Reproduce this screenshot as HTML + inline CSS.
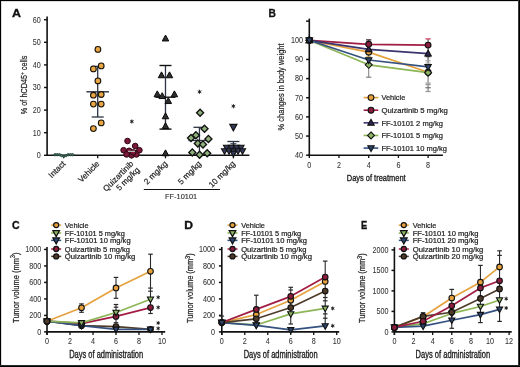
<!DOCTYPE html>
<html><head><meta charset="utf-8"><style>
html,body{margin:0;padding:0;background:#fff;width:520px;height:367px;overflow:hidden}
svg{display:block;will-change:transform}
text{font-family:"Liberation Sans", sans-serif}
</style></head><body>
<svg width="520" height="367" viewBox="0 0 520 367">
<rect x="0" y="0" width="520" height="367" fill="#fff"/>
<text x="11.9" y="16.5" font-size="10.6" fill="#111" stroke="#111" stroke-width="0.3" font-weight="bold" textLength="9" lengthAdjust="spacingAndGlyphs">A</text>
<line x1="47.1" y1="16.6" x2="47.1" y2="156" stroke="#111" stroke-width="1.6"/>
<line x1="46.4" y1="155.3" x2="249.4" y2="155.3" stroke="#111" stroke-width="1.6"/>
<line x1="44" y1="155.3" x2="47.1" y2="155.3" stroke="#111" stroke-width="1.4"/>
<line x1="44" y1="132.7" x2="47.1" y2="132.7" stroke="#111" stroke-width="1.4"/>
<line x1="44" y1="110.1" x2="47.1" y2="110.1" stroke="#111" stroke-width="1.4"/>
<line x1="44" y1="87.5" x2="47.1" y2="87.5" stroke="#111" stroke-width="1.4"/>
<line x1="44" y1="64.9" x2="47.1" y2="64.9" stroke="#111" stroke-width="1.4"/>
<line x1="44" y1="42.3" x2="47.1" y2="42.3" stroke="#111" stroke-width="1.4"/>
<line x1="44" y1="19.7" x2="47.1" y2="19.7" stroke="#111" stroke-width="1.4"/>
<text x="40.8" y="158.12" font-size="8.2" text-anchor="end" fill="#333" stroke="#333" stroke-width="0.06" textLength="4" lengthAdjust="spacingAndGlyphs">0</text>
<text x="40.8" y="135.52" font-size="8.2" text-anchor="end" fill="#333" stroke="#333" stroke-width="0.06" textLength="8" lengthAdjust="spacingAndGlyphs">10</text>
<text x="40.8" y="112.92" font-size="8.2" text-anchor="end" fill="#333" stroke="#333" stroke-width="0.06" textLength="8" lengthAdjust="spacingAndGlyphs">20</text>
<text x="40.8" y="90.32" font-size="8.2" text-anchor="end" fill="#333" stroke="#333" stroke-width="0.06" textLength="8" lengthAdjust="spacingAndGlyphs">30</text>
<text x="40.8" y="67.72" font-size="8.2" text-anchor="end" fill="#333" stroke="#333" stroke-width="0.06" textLength="8" lengthAdjust="spacingAndGlyphs">40</text>
<text x="40.8" y="45.12" font-size="8.2" text-anchor="end" fill="#333" stroke="#333" stroke-width="0.06" textLength="8" lengthAdjust="spacingAndGlyphs">50</text>
<text x="40.8" y="22.52" font-size="8.2" text-anchor="end" fill="#333" stroke="#333" stroke-width="0.06" textLength="8" lengthAdjust="spacingAndGlyphs">60</text>
<line x1="63.6" y1="155.3" x2="63.6" y2="158.3" stroke="#111" stroke-width="1.3"/>
<line x1="97.7" y1="155.3" x2="97.7" y2="158.3" stroke="#111" stroke-width="1.3"/>
<line x1="131.52" y1="155.3" x2="131.52" y2="158.3" stroke="#111" stroke-width="1.3"/>
<line x1="165.48" y1="155.3" x2="165.48" y2="158.3" stroke="#111" stroke-width="1.3"/>
<line x1="199.44" y1="155.3" x2="199.44" y2="158.3" stroke="#111" stroke-width="1.3"/>
<line x1="233.4" y1="155.3" x2="233.4" y2="158.3" stroke="#111" stroke-width="1.3"/>
<text x="27.3" y="84.9" font-size="8.9" text-anchor="middle" fill="#1e1e1e" stroke="#1e1e1e" stroke-width="0.22" textLength="58.5" lengthAdjust="spacingAndGlyphs" transform="rotate(-90 27.3 84.9)">% of hCD45<tspan font-size="6" dy="-3.2">+</tspan><tspan dy="3.2"> cells</tspan></text>
<text x="66" y="164.3" font-size="8.2" text-anchor="end" fill="#1e1e1e" stroke="#1e1e1e" stroke-width="0.2" transform="rotate(-45 66 164.3)">Intact</text>
<text x="100.1" y="164.3" font-size="8.2" text-anchor="end" fill="#1e1e1e" stroke="#1e1e1e" stroke-width="0.2" transform="rotate(-45 100.1 164.3)">Vehicle</text>
<text x="133.92" y="164.3" font-size="8.2" text-anchor="end" fill="#1e1e1e" stroke="#1e1e1e" stroke-width="0.2" transform="rotate(-45 133.92 164.3)">Quizartinib</text>
<text x="140.12" y="170.5" font-size="8.2" text-anchor="end" fill="#1e1e1e" stroke="#1e1e1e" stroke-width="0.2" transform="rotate(-45 140.12 170.5)">5 mg/kg</text>
<text x="167.88" y="164.3" font-size="8.2" text-anchor="end" fill="#1e1e1e" stroke="#1e1e1e" stroke-width="0.2" transform="rotate(-45 167.88 164.3)">2 mg/kg</text>
<text x="201.84" y="164.3" font-size="8.2" text-anchor="end" fill="#1e1e1e" stroke="#1e1e1e" stroke-width="0.2" transform="rotate(-45 201.84 164.3)">5 mg/kg</text>
<text x="235.8" y="164.3" font-size="8.2" text-anchor="end" fill="#1e1e1e" stroke="#1e1e1e" stroke-width="0.2" transform="rotate(-45 235.8 164.3)">10 mg/kg</text>
<line x1="143.8" y1="189.5" x2="219.9" y2="189.5" stroke="#111" stroke-width="1.2"/>
<text x="165.1" y="199.4" font-size="8" fill="#333" stroke="#333" stroke-width="0.15" textLength="32" lengthAdjust="spacingAndGlyphs">FF-10101</text>
<circle cx="55" cy="154.7" r="1.2" fill="#4a7262" stroke="#1f3d33" stroke-width="0.8"/>
<circle cx="57.2" cy="154.7" r="1.2" fill="#4a7262" stroke="#1f3d33" stroke-width="0.8"/>
<circle cx="59.4" cy="154.7" r="1.2" fill="#4a7262" stroke="#1f3d33" stroke-width="0.8"/>
<circle cx="61.6" cy="155.6" r="1.2" fill="#4a7262" stroke="#1f3d33" stroke-width="0.8"/>
<circle cx="63.8" cy="156.2" r="1.2" fill="#4a7262" stroke="#1f3d33" stroke-width="0.8"/>
<circle cx="66" cy="155.6" r="1.2" fill="#4a7262" stroke="#1f3d33" stroke-width="0.8"/>
<circle cx="68.2" cy="154.7" r="1.2" fill="#4a7262" stroke="#1f3d33" stroke-width="0.8"/>
<circle cx="70.4" cy="154.7" r="1.2" fill="#4a7262" stroke="#1f3d33" stroke-width="0.8"/>
<circle cx="72.6" cy="154.7" r="1.2" fill="#4a7262" stroke="#1f3d33" stroke-width="0.8"/>
<line x1="97.7" y1="66.4" x2="97.7" y2="117" stroke="#2b3440" stroke-width="1.3"/>
<line x1="91.7" y1="66.4" x2="103.7" y2="66.4" stroke="#2b3440" stroke-width="1.3"/>
<line x1="91.7" y1="117" x2="103.7" y2="117" stroke="#2b3440" stroke-width="1.3"/>
<line x1="86.4" y1="91.8" x2="109" y2="91.8" stroke="#2b3440" stroke-width="1.4"/>
<circle cx="97.9" cy="49.4" r="2.85" fill="#e8a744" stroke="#1a1208" stroke-width="1.1"/>
<circle cx="93.4" cy="68.9" r="2.85" fill="#e8a744" stroke="#1a1208" stroke-width="1.1"/>
<circle cx="101.2" cy="65.9" r="2.85" fill="#e8a744" stroke="#1a1208" stroke-width="1.1"/>
<circle cx="97.9" cy="80.9" r="2.85" fill="#e8a744" stroke="#1a1208" stroke-width="1.1"/>
<circle cx="93.4" cy="95.2" r="2.85" fill="#e8a744" stroke="#1a1208" stroke-width="1.1"/>
<circle cx="101.2" cy="94.5" r="2.85" fill="#e8a744" stroke="#1a1208" stroke-width="1.1"/>
<circle cx="93.4" cy="104.1" r="2.85" fill="#e8a744" stroke="#1a1208" stroke-width="1.1"/>
<circle cx="101.2" cy="104.1" r="2.85" fill="#e8a744" stroke="#1a1208" stroke-width="1.1"/>
<circle cx="101.2" cy="122.9" r="2.85" fill="#e8a744" stroke="#1a1208" stroke-width="1.1"/>
<circle cx="93.4" cy="128.6" r="2.85" fill="#e8a744" stroke="#1a1208" stroke-width="1.1"/>
<line x1="121.52" y1="150.5" x2="141.52" y2="150.5" stroke="#2b3440" stroke-width="1.2"/>
<path d="M131.82,121.5L131.82,123.2M131.82,121.5L130.35,122.35M131.82,121.5L130.35,120.65M131.82,121.5L131.82,119.8M131.82,121.5L133.29,120.65M131.82,121.5L133.29,122.35" stroke="#222" stroke-width="0.9" fill="none" stroke-linecap="round"/>
<circle cx="131.82" cy="121.5" r="0.94" fill="#222"/>
<circle cx="127.5" cy="141" r="2.8" fill="#7b1838" stroke="#2a0412" stroke-width="1"/>
<circle cx="135.2" cy="146" r="2.8" fill="#7b1838" stroke="#2a0412" stroke-width="1"/>
<circle cx="123.6" cy="150.2" r="2.8" fill="#7b1838" stroke="#2a0412" stroke-width="1"/>
<circle cx="139.4" cy="150.2" r="2.8" fill="#7b1838" stroke="#2a0412" stroke-width="1"/>
<circle cx="129.2" cy="150.8" r="2.8" fill="#7b1838" stroke="#2a0412" stroke-width="1"/>
<circle cx="131.6" cy="155.3" r="2.8" fill="#7b1838" stroke="#2a0412" stroke-width="1"/>
<circle cx="126.6" cy="154.4" r="2.8" fill="#7b1838" stroke="#2a0412" stroke-width="1"/>
<circle cx="136.4" cy="154.4" r="2.8" fill="#7b1838" stroke="#2a0412" stroke-width="1"/>
<circle cx="133.2" cy="152.4" r="2.8" fill="#7b1838" stroke="#2a0412" stroke-width="1"/>
<line x1="128.02" y1="151.3" x2="135.02" y2="151.3" stroke="#c8e0d8" stroke-width="1"/>
<line x1="165.48" y1="65.5" x2="165.48" y2="129.1" stroke="#2b3440" stroke-width="1.3"/>
<line x1="159.48" y1="65.5" x2="171.48" y2="65.5" stroke="#111" stroke-width="1.4"/>
<line x1="159.48" y1="129.1" x2="171.48" y2="129.1" stroke="#111" stroke-width="1.4"/>
<line x1="155.48" y1="97.2" x2="175.48" y2="97.2" stroke="#111" stroke-width="1.4"/>
<polygon points="165.5,35.06 162.25,40.96 168.75,40.96" fill="#2e2e2e" stroke="#0a0a0a" stroke-width="1"/>
<polygon points="161.5,71.86 158.25,77.76 164.75,77.76" fill="#2e2e2e" stroke="#0a0a0a" stroke-width="1"/>
<polygon points="169.5,71.86 166.25,77.76 172.75,77.76" fill="#2e2e2e" stroke="#0a0a0a" stroke-width="1"/>
<polygon points="157.3,90.86 154.06,96.76 160.55,96.76" fill="#2e2e2e" stroke="#0a0a0a" stroke-width="1"/>
<polygon points="162.2,92.66 158.95,98.56 165.44,98.56" fill="#2e2e2e" stroke="#0a0a0a" stroke-width="1"/>
<polygon points="174.4,90.86 171.16,96.76 177.65,96.76" fill="#2e2e2e" stroke="#0a0a0a" stroke-width="1"/>
<polygon points="168.3,97.66 165.06,103.56 171.55,103.56" fill="#2e2e2e" stroke="#0a0a0a" stroke-width="1"/>
<polygon points="165.5,112.86 162.25,118.76 168.75,118.76" fill="#2e2e2e" stroke="#0a0a0a" stroke-width="1"/>
<polygon points="165.5,122.66 162.25,128.56 168.75,128.56" fill="#2e2e2e" stroke="#0a0a0a" stroke-width="1"/>
<polygon points="165.5,149.86 162.25,155.76 168.75,155.76" fill="#2e2e2e" stroke="#0a0a0a" stroke-width="1"/>
<path d="M199.54,91.8L199.54,93.5M199.54,91.8L198.07,92.65M199.54,91.8L198.07,90.95M199.54,91.8L199.54,90.1M199.54,91.8L201.01,90.95M199.54,91.8L201.01,92.65" stroke="#222" stroke-width="0.9" fill="none" stroke-linecap="round"/>
<circle cx="199.54" cy="91.8" r="0.94" fill="#222"/>
<line x1="199.44" y1="127.3" x2="199.44" y2="153" stroke="#2b3440" stroke-width="1.3"/>
<line x1="193.44" y1="127.3" x2="205.44" y2="127.3" stroke="#2b3440" stroke-width="1.3"/>
<line x1="188.44" y1="140.5" x2="210.44" y2="140.5" stroke="#2b3440" stroke-width="1.3"/>
<polygon points="200.1,109.17 203.63,112.7 200.1,116.23 196.57,112.7" fill="#8fb27c" stroke="#111" stroke-width="1.35"/>
<polygon points="204.5,125.17 208.03,128.7 204.5,132.23 200.97,128.7" fill="#8fb27c" stroke="#111" stroke-width="1.35"/>
<polygon points="195.9,131.67 199.43,135.2 195.9,138.73 192.37,135.2" fill="#8fb27c" stroke="#111" stroke-width="1.35"/>
<polygon points="191,134.47 194.53,138 191,141.53 187.47,138" fill="#8fb27c" stroke="#111" stroke-width="1.35"/>
<polygon points="208.4,135.37 211.93,138.9 208.4,142.43 204.87,138.9" fill="#8fb27c" stroke="#111" stroke-width="1.35"/>
<polygon points="197.8,139.87 201.33,143.4 197.8,146.93 194.27,143.4" fill="#8fb27c" stroke="#111" stroke-width="1.35"/>
<polygon points="203,140.87 206.53,144.4 203,147.93 199.47,144.4" fill="#8fb27c" stroke="#111" stroke-width="1.35"/>
<polygon points="192.3,148.87 195.83,152.4 192.3,155.93 188.77,152.4" fill="#8fb27c" stroke="#111" stroke-width="1.35"/>
<polygon points="199.6,151.27 203.13,154.8 199.6,158.33 196.07,154.8" fill="#8fb27c" stroke="#111" stroke-width="1.35"/>
<polygon points="207.2,149.67 210.73,153.2 207.2,156.73 203.67,153.2" fill="#8fb27c" stroke="#111" stroke-width="1.35"/>
<path d="M233.4,106.2L233.4,107.9M233.4,106.2L231.93,107.05M233.4,106.2L231.93,105.35M233.4,106.2L233.4,104.5M233.4,106.2L234.87,105.35M233.4,106.2L234.87,107.05" stroke="#222" stroke-width="0.9" fill="none" stroke-linecap="round"/>
<circle cx="233.4" cy="106.2" r="0.94" fill="#222"/>
<line x1="233.4" y1="141.5" x2="233.4" y2="150" stroke="#2b3440" stroke-width="1.3"/>
<line x1="227.4" y1="141.5" x2="239.4" y2="141.5" stroke="#2b3440" stroke-width="1.3"/>
<line x1="230.4" y1="143.8" x2="236.4" y2="143.8" stroke="#2b3440" stroke-width="1.2"/>
<polygon points="233.4,130.84 229.88,124.44 236.92,124.44" fill="#343a5a" stroke="#111" stroke-width="1.2"/>
<polygon points="226.5,150.86 223.42,145.26 229.58,145.26" fill="#343a5a" stroke="#111" stroke-width="1.05"/>
<polygon points="231.5,150.86 228.42,145.26 234.58,145.26" fill="#343a5a" stroke="#111" stroke-width="1.05"/>
<polygon points="236.5,150.86 233.42,145.26 239.58,145.26" fill="#343a5a" stroke="#111" stroke-width="1.05"/>
<polygon points="241,150.86 237.92,145.26 244.08,145.26" fill="#343a5a" stroke="#111" stroke-width="1.05"/>
<polygon points="224.5,154.36 221.42,148.76 227.58,148.76" fill="#343a5a" stroke="#111" stroke-width="1.05"/>
<polygon points="229,154.36 225.92,148.76 232.08,148.76" fill="#343a5a" stroke="#111" stroke-width="1.05"/>
<polygon points="233.5,154.36 230.42,148.76 236.58,148.76" fill="#343a5a" stroke="#111" stroke-width="1.05"/>
<polygon points="238,154.36 234.92,148.76 241.08,148.76" fill="#343a5a" stroke="#111" stroke-width="1.05"/>
<polygon points="242.5,154.36 239.42,148.76 245.58,148.76" fill="#343a5a" stroke="#111" stroke-width="1.05"/>
<polygon points="233.4,156.86 230.32,151.26 236.48,151.26" fill="#343a5a" stroke="#111" stroke-width="1.05"/>
<text x="268.6" y="16.6" font-size="10.6" fill="#111" stroke="#111" stroke-width="0.3" font-weight="bold" textLength="7.4" lengthAdjust="spacingAndGlyphs">B</text>
<line x1="309.3" y1="18.6" x2="309.3" y2="155.9" stroke="#111" stroke-width="1.6"/>
<line x1="308.6" y1="155.2" x2="442.9" y2="155.2" stroke="#111" stroke-width="1.6"/>
<line x1="306.1" y1="155.2" x2="309.3" y2="155.2" stroke="#111" stroke-width="1.5"/>
<line x1="306.1" y1="136.05" x2="309.3" y2="136.05" stroke="#111" stroke-width="1.5"/>
<line x1="306.1" y1="116.9" x2="309.3" y2="116.9" stroke="#111" stroke-width="1.5"/>
<line x1="306.1" y1="97.75" x2="309.3" y2="97.75" stroke="#111" stroke-width="1.5"/>
<line x1="306.1" y1="78.6" x2="309.3" y2="78.6" stroke="#111" stroke-width="1.5"/>
<line x1="306.1" y1="59.45" x2="309.3" y2="59.45" stroke="#111" stroke-width="1.5"/>
<line x1="306.1" y1="40.3" x2="309.3" y2="40.3" stroke="#111" stroke-width="1.5"/>
<line x1="306.1" y1="21.15" x2="309.3" y2="21.15" stroke="#111" stroke-width="1.5"/>
<text x="303" y="158.02" font-size="8.2" text-anchor="end" fill="#333" stroke="#333" stroke-width="0.06" textLength="8" lengthAdjust="spacingAndGlyphs">40</text>
<text x="303" y="138.87" font-size="8.2" text-anchor="end" fill="#333" stroke="#333" stroke-width="0.06" textLength="8" lengthAdjust="spacingAndGlyphs">50</text>
<text x="303" y="119.72" font-size="8.2" text-anchor="end" fill="#333" stroke="#333" stroke-width="0.06" textLength="8" lengthAdjust="spacingAndGlyphs">60</text>
<text x="303" y="100.57" font-size="8.2" text-anchor="end" fill="#333" stroke="#333" stroke-width="0.06" textLength="8" lengthAdjust="spacingAndGlyphs">70</text>
<text x="303" y="81.42" font-size="8.2" text-anchor="end" fill="#333" stroke="#333" stroke-width="0.06" textLength="8" lengthAdjust="spacingAndGlyphs">80</text>
<text x="303" y="62.27" font-size="8.2" text-anchor="end" fill="#333" stroke="#333" stroke-width="0.06" textLength="8" lengthAdjust="spacingAndGlyphs">90</text>
<text x="303" y="43.12" font-size="8.2" text-anchor="end" fill="#333" stroke="#333" stroke-width="0.06" textLength="12" lengthAdjust="spacingAndGlyphs">100</text>
<line x1="309.3" y1="155.2" x2="309.3" y2="157.9" stroke="#111" stroke-width="1.3"/>
<line x1="339" y1="155.2" x2="339" y2="157.9" stroke="#111" stroke-width="1.3"/>
<line x1="368.7" y1="155.2" x2="368.7" y2="157.9" stroke="#111" stroke-width="1.3"/>
<line x1="398.4" y1="155.2" x2="398.4" y2="157.9" stroke="#111" stroke-width="1.3"/>
<line x1="428.1" y1="155.2" x2="428.1" y2="157.9" stroke="#111" stroke-width="1.3"/>
<text x="309.3" y="168.12" font-size="8.2" text-anchor="middle" fill="#333" stroke="#333" stroke-width="0.06" textLength="4" lengthAdjust="spacingAndGlyphs">0</text>
<text x="339" y="168.12" font-size="8.2" text-anchor="middle" fill="#333" stroke="#333" stroke-width="0.06" textLength="4" lengthAdjust="spacingAndGlyphs">2</text>
<text x="368.7" y="168.12" font-size="8.2" text-anchor="middle" fill="#333" stroke="#333" stroke-width="0.06" textLength="4" lengthAdjust="spacingAndGlyphs">4</text>
<text x="398.4" y="168.12" font-size="8.2" text-anchor="middle" fill="#333" stroke="#333" stroke-width="0.06" textLength="4" lengthAdjust="spacingAndGlyphs">6</text>
<text x="428.1" y="168.12" font-size="8.2" text-anchor="middle" fill="#333" stroke="#333" stroke-width="0.06" textLength="4" lengthAdjust="spacingAndGlyphs">8</text>
<text x="346.8" y="181" font-size="9.6" fill="#1e1e1e" stroke="#1e1e1e" stroke-width="0.34" textLength="58.8" lengthAdjust="spacingAndGlyphs">Days of treatment</text>
<text x="284.4" y="86.9" font-size="9" text-anchor="middle" fill="#1e1e1e" stroke="#1e1e1e" stroke-width="0.2" textLength="87" lengthAdjust="spacingAndGlyphs" transform="rotate(-90 284.4 86.9)">% changes in body weight</text>
<line x1="368.7" y1="39.9" x2="368.7" y2="65" stroke="#333" stroke-width="1.1"/>
<line x1="366.1" y1="39.9" x2="371.3" y2="39.9" stroke="#3a2030" stroke-width="1.3"/>
<line x1="366.1" y1="56.9" x2="371.3" y2="56.9" stroke="#c8b060" stroke-width="1.3"/>
<line x1="368.7" y1="65" x2="368.7" y2="77.2" stroke="#888" stroke-width="1.1"/>
<line x1="366.1" y1="77.2" x2="371.3" y2="77.2" stroke="#888" stroke-width="1.3"/>
<line x1="428.1" y1="38.9" x2="428.1" y2="72" stroke="#444" stroke-width="1.1"/>
<line x1="425.5" y1="38.9" x2="430.7" y2="38.9" stroke="#d04060" stroke-width="1.3"/>
<line x1="425.5" y1="56.6" x2="430.7" y2="56.6" stroke="#444" stroke-width="1.3"/>
<line x1="425.5" y1="60.7" x2="430.7" y2="60.7" stroke="#aaa" stroke-width="1.3"/>
<line x1="425.5" y1="63.1" x2="430.7" y2="63.1" stroke="#bbb" stroke-width="1.3"/>
<line x1="428.1" y1="72" x2="428.1" y2="91.5" stroke="#777" stroke-width="1.1"/>
<line x1="425.5" y1="83.1" x2="430.7" y2="83.1" stroke="#aaa" stroke-width="1.3"/>
<line x1="425.5" y1="84.6" x2="430.7" y2="84.6" stroke="#999" stroke-width="1.3"/>
<line x1="425.5" y1="87.7" x2="430.7" y2="87.7" stroke="#777" stroke-width="1.3"/>
<line x1="425.5" y1="91.5" x2="430.7" y2="91.5" stroke="#999" stroke-width="1.3"/>
<polyline points="309.3,40.3 368.7,52.17 428.1,72.28" fill="none" stroke="#e5a23f" stroke-width="1.7" stroke-linejoin="round"/>
<polyline points="309.3,40.3 368.7,44.32 428.1,45.09" fill="none" stroke="#a11d43" stroke-width="1.7" stroke-linejoin="round"/>
<polyline points="309.3,40.3 368.7,49.3 428.1,53.7" fill="none" stroke="#3b356f" stroke-width="1.7" stroke-linejoin="round"/>
<polyline points="309.3,40.3 368.7,64.81 428.1,72.66" fill="none" stroke="#8cb556" stroke-width="1.7" stroke-linejoin="round"/>
<polyline points="309.3,40.3 368.7,60.02 428.1,66.92" fill="none" stroke="#35517f" stroke-width="1.7" stroke-linejoin="round"/>
<circle cx="309.3" cy="40.3" r="2.9" fill="#e6a13c" stroke="#111" stroke-width="1.1"/>
<circle cx="368.7" cy="52.17" r="2.9" fill="#e6a13c" stroke="#111" stroke-width="1.1"/>
<circle cx="428.1" cy="72.28" r="2.9" fill="#e6a13c" stroke="#111" stroke-width="1.1"/>
<polygon points="309.3,36.83 312.77,40.3 309.3,43.77 305.83,40.3" fill="#8db565" stroke="#111" stroke-width="1.1"/>
<polygon points="368.7,61.34 372.17,64.81 368.7,68.28 365.23,64.81" fill="#8db565" stroke="#111" stroke-width="1.1"/>
<polygon points="428.1,69.19 431.57,72.66 428.1,76.14 424.63,72.66" fill="#8db565" stroke="#111" stroke-width="1.1"/>
<polygon points="309.3,43.78 306.11,37.98 312.49,37.98" fill="#2c4670" stroke="#111" stroke-width="1.1"/>
<polygon points="368.7,63.5 365.51,57.7 371.89,57.7" fill="#2c4670" stroke="#111" stroke-width="1.1"/>
<polygon points="428.1,70.4 424.91,64.6 431.29,64.6" fill="#2c4670" stroke="#111" stroke-width="1.1"/>
<polygon points="309.3,36.82 306.11,42.62 312.49,42.62" fill="#2e2a55" stroke="#111" stroke-width="1.1"/>
<polygon points="368.7,45.82 365.51,51.62 371.89,51.62" fill="#2e2a55" stroke="#111" stroke-width="1.1"/>
<polygon points="428.1,50.22 424.91,56.02 431.29,56.02" fill="#2e2a55" stroke="#111" stroke-width="1.1"/>
<circle cx="309.3" cy="40.3" r="2.9" fill="#8a1c3e" stroke="#111" stroke-width="1.1"/>
<circle cx="368.7" cy="44.32" r="2.9" fill="#8a1c3e" stroke="#111" stroke-width="1.1"/>
<circle cx="428.1" cy="45.09" r="2.9" fill="#8a1c3e" stroke="#111" stroke-width="1.1"/>
<polygon points="309.3,36.82 306.11,42.62 312.49,42.62" fill="#2e2a55" stroke="#111" stroke-width="1.1"/>
<polygon points="309.3,43.78 306.11,37.98 312.49,37.98" fill="#2c4670" stroke="#111" stroke-width="1.1"/>
<line x1="363.6" y1="97.6" x2="378.3" y2="97.6" stroke="#e5a23f" stroke-width="1.6"/>
<circle cx="371" cy="97.6" r="2.9" fill="#e6a13c" stroke="#111" stroke-width="1.1"/>
<text x="381.4" y="100.35" font-size="8" fill="#1e1e1e" stroke="#1e1e1e" stroke-width="0.22" textLength="23.9" lengthAdjust="spacingAndGlyphs">Vehicle</text>
<line x1="363.6" y1="110.22" x2="378.3" y2="110.22" stroke="#a11d43" stroke-width="1.6"/>
<circle cx="371" cy="110.22" r="2.9" fill="#8a1c3e" stroke="#111" stroke-width="1.1"/>
<text x="381.4" y="112.97" font-size="8" fill="#1e1e1e" stroke="#1e1e1e" stroke-width="0.22" textLength="66.4" lengthAdjust="spacingAndGlyphs">Quizartinib 5 mg/kg</text>
<line x1="363.6" y1="122.84" x2="378.3" y2="122.84" stroke="#3b356f" stroke-width="1.6"/>
<polygon points="371,119.36 367.81,125.16 374.19,125.16" fill="#2e2a55" stroke="#111" stroke-width="1.1"/>
<text x="381.4" y="125.59" font-size="8" fill="#1e1e1e" stroke="#1e1e1e" stroke-width="0.22" textLength="61.5" lengthAdjust="spacingAndGlyphs">FF-10101 2 mg/kg</text>
<line x1="363.6" y1="135.46" x2="378.3" y2="135.46" stroke="#8cb556" stroke-width="1.6"/>
<polygon points="371,131.99 374.47,135.46 371,138.93 367.53,135.46" fill="#8db565" stroke="#111" stroke-width="1.1"/>
<text x="381.4" y="138.21" font-size="8" fill="#1e1e1e" stroke="#1e1e1e" stroke-width="0.22" textLength="61.5" lengthAdjust="spacingAndGlyphs">FF-10101 5 mg/kg</text>
<line x1="363.6" y1="148.08" x2="378.3" y2="148.08" stroke="#35517f" stroke-width="1.6"/>
<polygon points="371,151.56 367.81,145.76 374.19,145.76" fill="#2c4670" stroke="#111" stroke-width="1.1"/>
<text x="381.4" y="150.83" font-size="8" fill="#1e1e1e" stroke="#1e1e1e" stroke-width="0.22" textLength="65.5" lengthAdjust="spacingAndGlyphs">FF-10101 10 mg/kg</text>
<text x="12" y="228.6" font-size="10.6" fill="#111" stroke="#111" stroke-width="0.35" font-weight="bold" textLength="7.6" lengthAdjust="spacingAndGlyphs">C</text>
<line x1="47" y1="247.1" x2="47" y2="335" stroke="#111" stroke-width="1.6"/>
<line x1="46.3" y1="331.9" x2="165.2" y2="331.9" stroke="#111" stroke-width="1.6"/>
<line x1="44.1" y1="331.9" x2="47" y2="331.9" stroke="#111" stroke-width="1.5"/>
<line x1="44.1" y1="315.41" x2="47" y2="315.41" stroke="#111" stroke-width="1.5"/>
<line x1="44.1" y1="298.92" x2="47" y2="298.92" stroke="#111" stroke-width="1.5"/>
<line x1="44.1" y1="282.43" x2="47" y2="282.43" stroke="#111" stroke-width="1.5"/>
<line x1="44.1" y1="265.94" x2="47" y2="265.94" stroke="#111" stroke-width="1.5"/>
<line x1="44.1" y1="249.45" x2="47" y2="249.45" stroke="#111" stroke-width="1.5"/>
<text x="41.2" y="334.72" font-size="8.2" text-anchor="end" fill="#333" stroke="#333" stroke-width="0.06" textLength="4" lengthAdjust="spacingAndGlyphs">0</text>
<text x="41.2" y="318.23" font-size="8.2" text-anchor="end" fill="#333" stroke="#333" stroke-width="0.06" textLength="12" lengthAdjust="spacingAndGlyphs">200</text>
<text x="41.2" y="301.74" font-size="8.2" text-anchor="end" fill="#333" stroke="#333" stroke-width="0.06" textLength="12" lengthAdjust="spacingAndGlyphs">400</text>
<text x="41.2" y="285.25" font-size="8.2" text-anchor="end" fill="#333" stroke="#333" stroke-width="0.06" textLength="12" lengthAdjust="spacingAndGlyphs">600</text>
<text x="41.2" y="268.76" font-size="8.2" text-anchor="end" fill="#333" stroke="#333" stroke-width="0.06" textLength="12" lengthAdjust="spacingAndGlyphs">800</text>
<text x="41.2" y="252.27" font-size="8.2" text-anchor="end" fill="#333" stroke="#333" stroke-width="0.06" textLength="16" lengthAdjust="spacingAndGlyphs">1000</text>
<line x1="47" y1="331.9" x2="47" y2="335" stroke="#111" stroke-width="1.3"/>
<line x1="70" y1="331.9" x2="70" y2="335" stroke="#111" stroke-width="1.3"/>
<line x1="93" y1="331.9" x2="93" y2="335" stroke="#111" stroke-width="1.3"/>
<line x1="116" y1="331.9" x2="116" y2="335" stroke="#111" stroke-width="1.3"/>
<line x1="139" y1="331.9" x2="139" y2="335" stroke="#111" stroke-width="1.3"/>
<line x1="162" y1="331.9" x2="162" y2="335" stroke="#111" stroke-width="1.3"/>
<text x="47" y="344.02" font-size="8.2" text-anchor="middle" fill="#333" stroke="#333" stroke-width="0.06" textLength="4" lengthAdjust="spacingAndGlyphs">0</text>
<text x="70" y="344.02" font-size="8.2" text-anchor="middle" fill="#333" stroke="#333" stroke-width="0.06" textLength="4" lengthAdjust="spacingAndGlyphs">2</text>
<text x="93" y="344.02" font-size="8.2" text-anchor="middle" fill="#333" stroke="#333" stroke-width="0.06" textLength="4" lengthAdjust="spacingAndGlyphs">4</text>
<text x="116" y="344.02" font-size="8.2" text-anchor="middle" fill="#333" stroke="#333" stroke-width="0.06" textLength="4" lengthAdjust="spacingAndGlyphs">6</text>
<text x="139" y="344.02" font-size="8.2" text-anchor="middle" fill="#333" stroke="#333" stroke-width="0.06" textLength="4" lengthAdjust="spacingAndGlyphs">8</text>
<text x="162" y="344.02" font-size="8.2" text-anchor="middle" fill="#333" stroke="#333" stroke-width="0.06" textLength="8" lengthAdjust="spacingAndGlyphs">10</text>
<text x="69.2" y="357.6" font-size="10" fill="#1e1e1e" stroke="#1e1e1e" stroke-width="0.34" textLength="74" lengthAdjust="spacingAndGlyphs">Days of administration</text>
<text x="18.8" y="287.7" font-size="9.4" text-anchor="middle" fill="#1e1e1e" stroke="#1e1e1e" stroke-width="0.22" textLength="70.5" lengthAdjust="spacingAndGlyphs" transform="rotate(-90 18.8 287.7)">Tumor volume (mm<tspan font-size="6.5" dy="-3.4">3</tspan><tspan dy="3.4">)</tspan></text>
<line x1="81.5" y1="303.9" x2="81.5" y2="312.3" stroke="#2a2a2a" stroke-width="1.1"/>
<line x1="79.2" y1="303.9" x2="83.8" y2="303.9" stroke="#2a2a2a" stroke-width="1.2"/>
<line x1="79.2" y1="312.3" x2="83.8" y2="312.3" stroke="#2a2a2a" stroke-width="1.2"/>
<line x1="116" y1="277.4" x2="116" y2="298.3" stroke="#2a2a2a" stroke-width="1.1"/>
<line x1="116" y1="304.5" x2="116" y2="322.7" stroke="#2a2a2a" stroke-width="1.1"/>
<line x1="113.7" y1="277.4" x2="118.3" y2="277.4" stroke="#2a2a2a" stroke-width="1.2"/>
<line x1="113.7" y1="298.3" x2="118.3" y2="298.3" stroke="#2a2a2a" stroke-width="1.2"/>
<line x1="113.7" y1="304.5" x2="118.3" y2="304.5" stroke="#2a2a2a" stroke-width="1.2"/>
<line x1="113.7" y1="307.2" x2="118.3" y2="307.2" stroke="#2a2a2a" stroke-width="1.2"/>
<line x1="113.7" y1="322.7" x2="118.3" y2="322.7" stroke="#2a2a2a" stroke-width="1.2"/>
<line x1="150.5" y1="254.2" x2="150.5" y2="313.5" stroke="#2a2a2a" stroke-width="1.1"/>
<line x1="148.2" y1="254.2" x2="152.8" y2="254.2" stroke="#2a2a2a" stroke-width="1.2"/>
<line x1="148.2" y1="288.1" x2="152.8" y2="288.1" stroke="#2a2a2a" stroke-width="1.2"/>
<line x1="148.2" y1="291.2" x2="152.8" y2="291.2" stroke="#2a2a2a" stroke-width="1.2"/>
<line x1="148.2" y1="313.5" x2="152.8" y2="313.5" stroke="#2a2a2a" stroke-width="1.2"/>
<polyline points="47,321.18 81.5,323.65 116,316.4 150.5,307.58" fill="none" stroke="#a11d43" stroke-width="1.7" stroke-linejoin="round"/>
<polyline points="47,321.18 81.5,307.74 116,287.95 150.5,271.3" fill="none" stroke="#e5a23f" stroke-width="1.7" stroke-linejoin="round"/>
<polyline points="47,321.18 81.5,325.63 116,326.62 150.5,329.34" fill="none" stroke="#4e3b2a" stroke-width="1.7" stroke-linejoin="round"/>
<polyline points="47,321.18 81.5,325.63 116,329.34 150.5,329.34" fill="none" stroke="#35517f" stroke-width="1.7" stroke-linejoin="round"/>
<polyline points="47,321.18 81.5,322.83 116,312.52 150.5,299.25" fill="none" stroke="#8cb556" stroke-width="1.7" stroke-linejoin="round"/>
<circle cx="47" cy="321.18" r="2.8" fill="#8a1c3e" stroke="#111" stroke-width="1.1"/>
<circle cx="81.5" cy="323.65" r="2.8" fill="#8a1c3e" stroke="#111" stroke-width="1.1"/>
<circle cx="116" cy="316.4" r="2.8" fill="#8a1c3e" stroke="#111" stroke-width="1.1"/>
<circle cx="150.5" cy="307.58" r="2.8" fill="#8a1c3e" stroke="#111" stroke-width="1.1"/>
<circle cx="47" cy="321.18" r="2.8" fill="#e6a13c" stroke="#111" stroke-width="1.1"/>
<circle cx="81.5" cy="307.74" r="2.8" fill="#e6a13c" stroke="#111" stroke-width="1.1"/>
<circle cx="116" cy="287.95" r="2.8" fill="#e6a13c" stroke="#111" stroke-width="1.1"/>
<circle cx="150.5" cy="271.3" r="2.8" fill="#e6a13c" stroke="#111" stroke-width="1.1"/>
<circle cx="47" cy="321.18" r="2.8" fill="#4d3a29" stroke="#111" stroke-width="1.1"/>
<circle cx="81.5" cy="325.63" r="2.8" fill="#4d3a29" stroke="#111" stroke-width="1.1"/>
<circle cx="116" cy="326.62" r="2.8" fill="#4d3a29" stroke="#111" stroke-width="1.1"/>
<circle cx="150.5" cy="329.34" r="2.8" fill="#4d3a29" stroke="#111" stroke-width="1.1"/>
<polygon points="47,324.54 43.92,318.94 50.08,318.94" fill="#2c4670" stroke="#111" stroke-width="1.1"/>
<polygon points="81.5,328.99 78.42,323.39 84.58,323.39" fill="#2c4670" stroke="#111" stroke-width="1.1"/>
<polygon points="116,332.7 112.92,327.1 119.08,327.1" fill="#2c4670" stroke="#111" stroke-width="1.1"/>
<polygon points="150.5,332.7 147.42,327.1 153.58,327.1" fill="#2c4670" stroke="#111" stroke-width="1.1"/>
<polygon points="47,324.54 43.92,318.94 50.08,318.94" fill="#8db565" stroke="#111" stroke-width="1.1"/>
<polygon points="81.5,326.19 78.42,320.59 84.58,320.59" fill="#8db565" stroke="#111" stroke-width="1.1"/>
<polygon points="116,315.88 112.92,310.28 119.08,310.28" fill="#8db565" stroke="#111" stroke-width="1.1"/>
<polygon points="150.5,302.61 147.42,297.01 153.58,297.01" fill="#8db565" stroke="#111" stroke-width="1.1"/>
<circle cx="47" cy="321.18" r="2.8" fill="#4d3a29" stroke="#111" stroke-width="1.1"/>
<path d="M158.2,297.3L158.2,298.9M158.2,297.3L156.81,298.1M158.2,297.3L156.81,296.5M158.2,297.3L158.2,295.7M158.2,297.3L159.59,296.5M158.2,297.3L159.59,298.1" stroke="#222" stroke-width="0.9" fill="none" stroke-linecap="round"/>
<circle cx="158.2" cy="297.3" r="0.88" fill="#222"/>
<path d="M158.2,307.4L158.2,309M158.2,307.4L156.81,308.2M158.2,307.4L156.81,306.6M158.2,307.4L158.2,305.8M158.2,307.4L159.59,306.6M158.2,307.4L159.59,308.2" stroke="#222" stroke-width="0.9" fill="none" stroke-linecap="round"/>
<circle cx="158.2" cy="307.4" r="0.88" fill="#222"/>
<path d="M158.2,323L158.2,324.6M158.2,323L156.81,323.8M158.2,323L156.81,322.2M158.2,323L158.2,321.4M158.2,323L159.59,322.2M158.2,323L159.59,323.8" stroke="#222" stroke-width="0.9" fill="none" stroke-linecap="round"/>
<circle cx="158.2" cy="323" r="0.88" fill="#222"/>
<path d="M158.2,328.4L158.2,330M158.2,328.4L156.81,329.2M158.2,328.4L156.81,327.6M158.2,328.4L158.2,326.8M158.2,328.4L159.59,327.6M158.2,328.4L159.59,329.2" stroke="#222" stroke-width="0.9" fill="none" stroke-linecap="round"/>
<circle cx="158.2" cy="328.4" r="0.88" fill="#222"/>
<line x1="51.2" y1="225.1" x2="61.2" y2="225.1" stroke="#e5a23f" stroke-width="1.5"/>
<circle cx="56.2" cy="225.1" r="2.55" fill="#e6a13c" stroke="#111" stroke-width="1.2"/>
<text x="64.8" y="227.71" font-size="7.6" fill="#1e1e1e" stroke="#1e1e1e" stroke-width="0.22" textLength="23.8" lengthAdjust="spacingAndGlyphs">Vehicle</text>
<line x1="51.2" y1="233" x2="61.2" y2="233" stroke="#8cb556" stroke-width="1.5"/>
<polygon points="56.2,236.66 52.85,230.56 59.55,230.56" fill="#8db565" stroke="#111" stroke-width="1.2"/>
<text x="64.8" y="235.61" font-size="7.6" fill="#1e1e1e" stroke="#1e1e1e" stroke-width="0.22" textLength="60" lengthAdjust="spacingAndGlyphs">FF-10101 5 mg/kg</text>
<line x1="51.2" y1="240.4" x2="61.2" y2="240.4" stroke="#35517f" stroke-width="1.5"/>
<polygon points="56.2,244.06 52.85,237.96 59.55,237.96" fill="#2c4670" stroke="#111" stroke-width="1.2"/>
<text x="64.8" y="243.01" font-size="7.6" fill="#1e1e1e" stroke="#1e1e1e" stroke-width="0.22" textLength="65.8" lengthAdjust="spacingAndGlyphs">FF-10101 10 mg/kg</text>
<line x1="51.2" y1="249" x2="61.2" y2="249" stroke="#a11d43" stroke-width="1.5"/>
<circle cx="56.2" cy="249" r="2.55" fill="#8a1c3e" stroke="#111" stroke-width="1.2"/>
<text x="64.8" y="251.61" font-size="7.6" fill="#1e1e1e" stroke="#1e1e1e" stroke-width="0.22" textLength="65.2" lengthAdjust="spacingAndGlyphs">Quizartinib 5 mg/kg</text>
<line x1="51.2" y1="256.4" x2="61.2" y2="256.4" stroke="#4e3b2a" stroke-width="1.5"/>
<circle cx="56.2" cy="256.4" r="2.55" fill="#4d3a29" stroke="#111" stroke-width="1.2"/>
<text x="64.8" y="259.01" font-size="7.6" fill="#1e1e1e" stroke="#1e1e1e" stroke-width="0.22" textLength="70.6" lengthAdjust="spacingAndGlyphs">Quizartinib 10 mg/kg</text>
<text x="184.3" y="228.6" font-size="10.6" fill="#111" stroke="#111" stroke-width="0.35" font-weight="bold" textLength="8.7" lengthAdjust="spacingAndGlyphs">D</text>
<line x1="221.8" y1="247.1" x2="221.8" y2="335" stroke="#111" stroke-width="1.6"/>
<line x1="221.1" y1="331.9" x2="339.2" y2="331.9" stroke="#111" stroke-width="1.6"/>
<line x1="218.9" y1="331.9" x2="221.8" y2="331.9" stroke="#111" stroke-width="1.5"/>
<line x1="218.9" y1="315.41" x2="221.8" y2="315.41" stroke="#111" stroke-width="1.5"/>
<line x1="218.9" y1="298.92" x2="221.8" y2="298.92" stroke="#111" stroke-width="1.5"/>
<line x1="218.9" y1="282.43" x2="221.8" y2="282.43" stroke="#111" stroke-width="1.5"/>
<line x1="218.9" y1="265.94" x2="221.8" y2="265.94" stroke="#111" stroke-width="1.5"/>
<line x1="218.9" y1="249.45" x2="221.8" y2="249.45" stroke="#111" stroke-width="1.5"/>
<text x="215" y="334.72" font-size="8.2" text-anchor="end" fill="#333" stroke="#333" stroke-width="0.06" textLength="4" lengthAdjust="spacingAndGlyphs">0</text>
<text x="215" y="318.23" font-size="8.2" text-anchor="end" fill="#333" stroke="#333" stroke-width="0.06" textLength="12" lengthAdjust="spacingAndGlyphs">200</text>
<text x="215" y="301.74" font-size="8.2" text-anchor="end" fill="#333" stroke="#333" stroke-width="0.06" textLength="12" lengthAdjust="spacingAndGlyphs">400</text>
<text x="215" y="285.25" font-size="8.2" text-anchor="end" fill="#333" stroke="#333" stroke-width="0.06" textLength="12" lengthAdjust="spacingAndGlyphs">600</text>
<text x="215" y="268.76" font-size="8.2" text-anchor="end" fill="#333" stroke="#333" stroke-width="0.06" textLength="12" lengthAdjust="spacingAndGlyphs">800</text>
<text x="215" y="252.27" font-size="8.2" text-anchor="end" fill="#333" stroke="#333" stroke-width="0.06" textLength="16" lengthAdjust="spacingAndGlyphs">1000</text>
<line x1="221.8" y1="331.9" x2="221.8" y2="335" stroke="#111" stroke-width="1.3"/>
<line x1="244.78" y1="331.9" x2="244.78" y2="335" stroke="#111" stroke-width="1.3"/>
<line x1="267.76" y1="331.9" x2="267.76" y2="335" stroke="#111" stroke-width="1.3"/>
<line x1="290.74" y1="331.9" x2="290.74" y2="335" stroke="#111" stroke-width="1.3"/>
<line x1="313.72" y1="331.9" x2="313.72" y2="335" stroke="#111" stroke-width="1.3"/>
<line x1="336.7" y1="331.9" x2="336.7" y2="335" stroke="#111" stroke-width="1.3"/>
<text x="221.8" y="344.02" font-size="8.2" text-anchor="middle" fill="#333" stroke="#333" stroke-width="0.06" textLength="4" lengthAdjust="spacingAndGlyphs">0</text>
<text x="244.78" y="344.02" font-size="8.2" text-anchor="middle" fill="#333" stroke="#333" stroke-width="0.06" textLength="4" lengthAdjust="spacingAndGlyphs">2</text>
<text x="267.76" y="344.02" font-size="8.2" text-anchor="middle" fill="#333" stroke="#333" stroke-width="0.06" textLength="4" lengthAdjust="spacingAndGlyphs">4</text>
<text x="290.74" y="344.02" font-size="8.2" text-anchor="middle" fill="#333" stroke="#333" stroke-width="0.06" textLength="4" lengthAdjust="spacingAndGlyphs">6</text>
<text x="313.72" y="344.02" font-size="8.2" text-anchor="middle" fill="#333" stroke="#333" stroke-width="0.06" textLength="4" lengthAdjust="spacingAndGlyphs">8</text>
<text x="336.7" y="344.02" font-size="8.2" text-anchor="middle" fill="#333" stroke="#333" stroke-width="0.06" textLength="8" lengthAdjust="spacingAndGlyphs">10</text>
<text x="243.7" y="357.6" font-size="10" fill="#1e1e1e" stroke="#1e1e1e" stroke-width="0.34" textLength="74" lengthAdjust="spacingAndGlyphs">Days of administration</text>
<text x="193.3" y="288.2" font-size="9.4" text-anchor="middle" fill="#1e1e1e" stroke="#1e1e1e" stroke-width="0.22" textLength="69.7" lengthAdjust="spacingAndGlyphs" transform="rotate(-90 193.3 288.2)">Tumor volume (mm<tspan font-size="6.5" dy="-3.4">3</tspan><tspan dy="3.4">)</tspan></text>
<line x1="221.8" y1="316.1" x2="221.8" y2="322" stroke="#2a2a2a" stroke-width="1.1"/>
<line x1="219.5" y1="316.1" x2="224.1" y2="316.1" stroke="#2a2a2a" stroke-width="1.2"/>
<line x1="256.27" y1="295.2" x2="256.27" y2="328" stroke="#2a2a2a" stroke-width="1.1"/>
<line x1="253.97" y1="295.2" x2="258.57" y2="295.2" stroke="#2a2a2a" stroke-width="1.2"/>
<line x1="290.74" y1="287.3" x2="290.74" y2="324" stroke="#2a2a2a" stroke-width="1.1"/>
<line x1="288.44" y1="287.3" x2="293.04" y2="287.3" stroke="#2a2a2a" stroke-width="1.2"/>
<line x1="288.44" y1="290" x2="293.04" y2="290" stroke="#2a2a2a" stroke-width="1.2"/>
<line x1="288.44" y1="324" x2="293.04" y2="324" stroke="#2a2a2a" stroke-width="1.2"/>
<line x1="325.21" y1="261.1" x2="325.21" y2="328" stroke="#2a2a2a" stroke-width="1.1"/>
<line x1="322.91" y1="261.1" x2="327.51" y2="261.1" stroke="#2a2a2a" stroke-width="1.2"/>
<line x1="322.91" y1="297.5" x2="327.51" y2="297.5" stroke="#2a2a2a" stroke-width="1.2"/>
<line x1="322.91" y1="300.8" x2="327.51" y2="300.8" stroke="#2a2a2a" stroke-width="1.2"/>
<line x1="322.91" y1="313.9" x2="327.51" y2="313.9" stroke="#2a2a2a" stroke-width="1.2"/>
<line x1="322.91" y1="318.2" x2="327.51" y2="318.2" stroke="#2a2a2a" stroke-width="1.2"/>
<polyline points="221.8,322.58 256.27,324.97 290.74,313.93 325.21,308.32" fill="none" stroke="#8cb556" stroke-width="1.7" stroke-linejoin="round"/>
<polyline points="221.8,322.58 256.27,325.3 290.74,329.84 325.21,325.96" fill="none" stroke="#35517f" stroke-width="1.7" stroke-linejoin="round"/>
<polyline points="221.8,322.58 256.27,314.5 290.74,300.32 325.21,281.44" fill="none" stroke="#e5a23f" stroke-width="1.7" stroke-linejoin="round"/>
<polyline points="221.8,322.58 256.27,318.79 290.74,307.49 325.21,291.09" fill="none" stroke="#4e3b2a" stroke-width="1.7" stroke-linejoin="round"/>
<polyline points="221.8,322.58 256.27,309.39 290.74,296.36 325.21,277.07" fill="none" stroke="#a11d43" stroke-width="1.7" stroke-linejoin="round"/>
<polygon points="221.8,325.94 218.72,320.34 224.88,320.34" fill="#8db565" stroke="#111" stroke-width="1.1"/>
<polygon points="256.27,328.33 253.19,322.73 259.35,322.73" fill="#8db565" stroke="#111" stroke-width="1.1"/>
<polygon points="290.74,317.29 287.66,311.69 293.82,311.69" fill="#8db565" stroke="#111" stroke-width="1.1"/>
<polygon points="325.21,311.68 322.13,306.08 328.29,306.08" fill="#8db565" stroke="#111" stroke-width="1.1"/>
<polygon points="221.8,325.94 218.72,320.34 224.88,320.34" fill="#2c4670" stroke="#111" stroke-width="1.1"/>
<polygon points="256.27,328.66 253.19,323.06 259.35,323.06" fill="#2c4670" stroke="#111" stroke-width="1.1"/>
<polygon points="290.74,333.2 287.66,327.6 293.82,327.6" fill="#2c4670" stroke="#111" stroke-width="1.1"/>
<polygon points="325.21,329.32 322.13,323.72 328.29,323.72" fill="#2c4670" stroke="#111" stroke-width="1.1"/>
<circle cx="221.8" cy="322.58" r="2.8" fill="#e6a13c" stroke="#111" stroke-width="1.1"/>
<circle cx="256.27" cy="314.5" r="2.8" fill="#e6a13c" stroke="#111" stroke-width="1.1"/>
<circle cx="290.74" cy="300.32" r="2.8" fill="#e6a13c" stroke="#111" stroke-width="1.1"/>
<circle cx="325.21" cy="281.44" r="2.8" fill="#e6a13c" stroke="#111" stroke-width="1.1"/>
<circle cx="221.8" cy="322.58" r="2.8" fill="#4d3a29" stroke="#111" stroke-width="1.1"/>
<circle cx="256.27" cy="318.79" r="2.8" fill="#4d3a29" stroke="#111" stroke-width="1.1"/>
<circle cx="290.74" cy="307.49" r="2.8" fill="#4d3a29" stroke="#111" stroke-width="1.1"/>
<circle cx="325.21" cy="291.09" r="2.8" fill="#4d3a29" stroke="#111" stroke-width="1.1"/>
<circle cx="221.8" cy="322.58" r="2.8" fill="#8a1c3e" stroke="#111" stroke-width="1.1"/>
<circle cx="256.27" cy="309.39" r="2.8" fill="#8a1c3e" stroke="#111" stroke-width="1.1"/>
<circle cx="290.74" cy="296.36" r="2.8" fill="#8a1c3e" stroke="#111" stroke-width="1.1"/>
<circle cx="325.21" cy="277.07" r="2.8" fill="#8a1c3e" stroke="#111" stroke-width="1.1"/>
<polygon points="221.8,325.94 218.72,320.34 224.88,320.34" fill="#2c4670" stroke="#111" stroke-width="1.1"/>
<path d="M332.7,308.4L332.7,310M332.7,308.4L331.31,309.2M332.7,308.4L331.31,307.6M332.7,308.4L332.7,306.8M332.7,308.4L334.09,307.6M332.7,308.4L334.09,309.2" stroke="#222" stroke-width="0.9" fill="none" stroke-linecap="round"/>
<circle cx="332.7" cy="308.4" r="0.88" fill="#222"/>
<path d="M332.7,325.8L332.7,327.4M332.7,325.8L331.31,326.6M332.7,325.8L331.31,325M332.7,325.8L332.7,324.2M332.7,325.8L334.09,325M332.7,325.8L334.09,326.6" stroke="#222" stroke-width="0.9" fill="none" stroke-linecap="round"/>
<circle cx="332.7" cy="325.8" r="0.88" fill="#222"/>
<line x1="227.5" y1="225.1" x2="237.5" y2="225.1" stroke="#e5a23f" stroke-width="1.5"/>
<circle cx="232.5" cy="225.1" r="2.55" fill="#e6a13c" stroke="#111" stroke-width="1.2"/>
<text x="241.2" y="227.71" font-size="7.6" fill="#1e1e1e" stroke="#1e1e1e" stroke-width="0.22" textLength="23.8" lengthAdjust="spacingAndGlyphs">Vehicle</text>
<line x1="227.5" y1="233" x2="237.5" y2="233" stroke="#8cb556" stroke-width="1.5"/>
<polygon points="232.5,236.66 229.15,230.56 235.85,230.56" fill="#8db565" stroke="#111" stroke-width="1.2"/>
<text x="241.2" y="235.61" font-size="7.6" fill="#1e1e1e" stroke="#1e1e1e" stroke-width="0.22" textLength="60" lengthAdjust="spacingAndGlyphs">FF-10101 5 mg/kg</text>
<line x1="227.5" y1="240.4" x2="237.5" y2="240.4" stroke="#35517f" stroke-width="1.5"/>
<polygon points="232.5,244.06 229.15,237.96 235.85,237.96" fill="#2c4670" stroke="#111" stroke-width="1.2"/>
<text x="241.2" y="243.01" font-size="7.6" fill="#1e1e1e" stroke="#1e1e1e" stroke-width="0.22" textLength="65.8" lengthAdjust="spacingAndGlyphs">FF-10101 10 mg/kg</text>
<line x1="227.5" y1="249" x2="237.5" y2="249" stroke="#a11d43" stroke-width="1.5"/>
<circle cx="232.5" cy="249" r="2.55" fill="#8a1c3e" stroke="#111" stroke-width="1.2"/>
<text x="241.2" y="251.61" font-size="7.6" fill="#1e1e1e" stroke="#1e1e1e" stroke-width="0.22" textLength="65.2" lengthAdjust="spacingAndGlyphs">Quizartinib 5 mg/kg</text>
<line x1="227.5" y1="256.4" x2="237.5" y2="256.4" stroke="#4e3b2a" stroke-width="1.5"/>
<circle cx="232.5" cy="256.4" r="2.55" fill="#4d3a29" stroke="#111" stroke-width="1.2"/>
<text x="241.2" y="259.01" font-size="7.6" fill="#1e1e1e" stroke="#1e1e1e" stroke-width="0.22" textLength="70.8" lengthAdjust="spacingAndGlyphs">Quizartinib 10 mg/kg</text>
<text x="361" y="228.6" font-size="10.6" fill="#111" stroke="#111" stroke-width="0.35" font-weight="bold" textLength="6.2" lengthAdjust="spacingAndGlyphs">E</text>
<line x1="394.4" y1="247.1" x2="394.4" y2="335" stroke="#111" stroke-width="1.6"/>
<line x1="393.7" y1="331.9" x2="511.7" y2="331.9" stroke="#111" stroke-width="1.6"/>
<line x1="391.5" y1="331.9" x2="394.4" y2="331.9" stroke="#111" stroke-width="1.5"/>
<line x1="391.5" y1="311.4" x2="394.4" y2="311.4" stroke="#111" stroke-width="1.5"/>
<line x1="391.5" y1="290.9" x2="394.4" y2="290.9" stroke="#111" stroke-width="1.5"/>
<line x1="391.5" y1="270.4" x2="394.4" y2="270.4" stroke="#111" stroke-width="1.5"/>
<line x1="391.5" y1="249.9" x2="394.4" y2="249.9" stroke="#111" stroke-width="1.5"/>
<text x="388.6" y="334.72" font-size="8.2" text-anchor="end" fill="#333" stroke="#333" stroke-width="0.06" textLength="4" lengthAdjust="spacingAndGlyphs">0</text>
<text x="388.6" y="314.22" font-size="8.2" text-anchor="end" fill="#333" stroke="#333" stroke-width="0.06" textLength="12" lengthAdjust="spacingAndGlyphs">500</text>
<text x="388.6" y="293.72" font-size="8.2" text-anchor="end" fill="#333" stroke="#333" stroke-width="0.06" textLength="16" lengthAdjust="spacingAndGlyphs">1000</text>
<text x="388.6" y="273.22" font-size="8.2" text-anchor="end" fill="#333" stroke="#333" stroke-width="0.06" textLength="16" lengthAdjust="spacingAndGlyphs">1500</text>
<text x="388.6" y="252.72" font-size="8.2" text-anchor="end" fill="#333" stroke="#333" stroke-width="0.06" textLength="16" lengthAdjust="spacingAndGlyphs">2000</text>
<line x1="394.4" y1="331.9" x2="394.4" y2="335" stroke="#111" stroke-width="1.3"/>
<line x1="413.52" y1="331.9" x2="413.52" y2="335" stroke="#111" stroke-width="1.3"/>
<line x1="432.64" y1="331.9" x2="432.64" y2="335" stroke="#111" stroke-width="1.3"/>
<line x1="451.76" y1="331.9" x2="451.76" y2="335" stroke="#111" stroke-width="1.3"/>
<line x1="470.88" y1="331.9" x2="470.88" y2="335" stroke="#111" stroke-width="1.3"/>
<line x1="490" y1="331.9" x2="490" y2="335" stroke="#111" stroke-width="1.3"/>
<line x1="509.12" y1="331.9" x2="509.12" y2="335" stroke="#111" stroke-width="1.3"/>
<text x="394.4" y="344.02" font-size="8.2" text-anchor="middle" fill="#333" stroke="#333" stroke-width="0.06" textLength="4" lengthAdjust="spacingAndGlyphs">0</text>
<text x="413.52" y="344.02" font-size="8.2" text-anchor="middle" fill="#333" stroke="#333" stroke-width="0.06" textLength="4" lengthAdjust="spacingAndGlyphs">2</text>
<text x="432.64" y="344.02" font-size="8.2" text-anchor="middle" fill="#333" stroke="#333" stroke-width="0.06" textLength="4" lengthAdjust="spacingAndGlyphs">4</text>
<text x="451.76" y="344.02" font-size="8.2" text-anchor="middle" fill="#333" stroke="#333" stroke-width="0.06" textLength="4" lengthAdjust="spacingAndGlyphs">6</text>
<text x="470.88" y="344.02" font-size="8.2" text-anchor="middle" fill="#333" stroke="#333" stroke-width="0.06" textLength="4" lengthAdjust="spacingAndGlyphs">8</text>
<text x="490" y="344.02" font-size="8.2" text-anchor="middle" fill="#333" stroke="#333" stroke-width="0.06" textLength="8" lengthAdjust="spacingAndGlyphs">10</text>
<text x="509.12" y="344.02" font-size="8.2" text-anchor="middle" fill="#333" stroke="#333" stroke-width="0.06" textLength="8" lengthAdjust="spacingAndGlyphs">12</text>
<text x="415.6" y="357.6" font-size="10" fill="#1e1e1e" stroke="#1e1e1e" stroke-width="0.34" textLength="74.5" lengthAdjust="spacingAndGlyphs">Days of administration</text>
<text x="365.3" y="288.2" font-size="9.4" text-anchor="middle" fill="#1e1e1e" stroke="#1e1e1e" stroke-width="0.22" textLength="69.7" lengthAdjust="spacingAndGlyphs" transform="rotate(-90 365.3 288.2)">Tumor volume (mm<tspan font-size="6.5" dy="-3.4">3</tspan><tspan dy="3.4">)</tspan></text>
<line x1="423.08" y1="312.7" x2="423.08" y2="328" stroke="#2a2a2a" stroke-width="1.1"/>
<line x1="420.78" y1="312.7" x2="425.38" y2="312.7" stroke="#2a2a2a" stroke-width="1.2"/>
<line x1="451.76" y1="289.4" x2="451.76" y2="328.3" stroke="#2a2a2a" stroke-width="1.1"/>
<line x1="449.46" y1="289.4" x2="454.06" y2="289.4" stroke="#2a2a2a" stroke-width="1.2"/>
<line x1="449.46" y1="328.3" x2="454.06" y2="328.3" stroke="#2a2a2a" stroke-width="1.2"/>
<line x1="480.44" y1="265.4" x2="480.44" y2="322.6" stroke="#2a2a2a" stroke-width="1.1"/>
<line x1="478.14" y1="265.4" x2="482.74" y2="265.4" stroke="#2a2a2a" stroke-width="1.2"/>
<line x1="478.14" y1="322.6" x2="482.74" y2="322.6" stroke="#2a2a2a" stroke-width="1.2"/>
<line x1="499.56" y1="250.8" x2="499.56" y2="321.4" stroke="#2a2a2a" stroke-width="1.1"/>
<line x1="497.26" y1="250.8" x2="501.86" y2="250.8" stroke="#2a2a2a" stroke-width="1.2"/>
<line x1="497.26" y1="255.4" x2="501.86" y2="255.4" stroke="#2a2a2a" stroke-width="1.2"/>
<line x1="497.26" y1="321.4" x2="501.86" y2="321.4" stroke="#2a2a2a" stroke-width="1.2"/>
<polyline points="394.4,327.39 423.08,316.73 451.76,297.99 480.44,282.21 499.56,266.91" fill="none" stroke="#e5a23f" stroke-width="1.7" stroke-linejoin="round"/>
<polyline points="394.4,327.39 423.08,323.7 451.76,313.45 480.44,306.48 499.56,300" fill="none" stroke="#8cb556" stroke-width="1.7" stroke-linejoin="round"/>
<polyline points="394.4,327.39 423.08,326.2 451.76,320.21 480.44,314.6 499.56,309.31" fill="none" stroke="#35517f" stroke-width="1.7" stroke-linejoin="round"/>
<polyline points="394.4,327.39 423.08,316.4 451.76,312.22 480.44,298.4 499.56,288.89" fill="none" stroke="#4e3b2a" stroke-width="1.7" stroke-linejoin="round"/>
<polyline points="394.4,327.39 423.08,321.28 451.76,305.78 480.44,287.91 499.56,280.81" fill="none" stroke="#a11d43" stroke-width="1.7" stroke-linejoin="round"/>
<circle cx="394.4" cy="327.39" r="2.8" fill="#e6a13c" stroke="#111" stroke-width="1.1"/>
<circle cx="423.08" cy="316.73" r="2.8" fill="#e6a13c" stroke="#111" stroke-width="1.1"/>
<circle cx="451.76" cy="297.99" r="2.8" fill="#e6a13c" stroke="#111" stroke-width="1.1"/>
<circle cx="480.44" cy="282.21" r="2.8" fill="#e6a13c" stroke="#111" stroke-width="1.1"/>
<circle cx="499.56" cy="266.91" r="2.8" fill="#e6a13c" stroke="#111" stroke-width="1.1"/>
<polygon points="394.4,330.75 391.32,325.15 397.48,325.15" fill="#8db565" stroke="#111" stroke-width="1.1"/>
<polygon points="423.08,327.06 420,321.46 426.16,321.46" fill="#8db565" stroke="#111" stroke-width="1.1"/>
<polygon points="451.76,316.81 448.68,311.21 454.84,311.21" fill="#8db565" stroke="#111" stroke-width="1.1"/>
<polygon points="480.44,309.84 477.36,304.24 483.52,304.24" fill="#8db565" stroke="#111" stroke-width="1.1"/>
<polygon points="499.56,303.36 496.48,297.76 502.64,297.76" fill="#8db565" stroke="#111" stroke-width="1.1"/>
<polygon points="394.4,330.75 391.32,325.15 397.48,325.15" fill="#2c4670" stroke="#111" stroke-width="1.1"/>
<polygon points="423.08,329.56 420,323.96 426.16,323.96" fill="#2c4670" stroke="#111" stroke-width="1.1"/>
<polygon points="451.76,323.57 448.68,317.97 454.84,317.97" fill="#2c4670" stroke="#111" stroke-width="1.1"/>
<polygon points="480.44,317.96 477.36,312.36 483.52,312.36" fill="#2c4670" stroke="#111" stroke-width="1.1"/>
<polygon points="499.56,312.67 496.48,307.07 502.64,307.07" fill="#2c4670" stroke="#111" stroke-width="1.1"/>
<circle cx="394.4" cy="327.39" r="2.8" fill="#4d3a29" stroke="#111" stroke-width="1.1"/>
<circle cx="423.08" cy="316.4" r="2.8" fill="#4d3a29" stroke="#111" stroke-width="1.1"/>
<circle cx="451.76" cy="312.22" r="2.8" fill="#4d3a29" stroke="#111" stroke-width="1.1"/>
<circle cx="480.44" cy="298.4" r="2.8" fill="#4d3a29" stroke="#111" stroke-width="1.1"/>
<circle cx="499.56" cy="288.89" r="2.8" fill="#4d3a29" stroke="#111" stroke-width="1.1"/>
<circle cx="394.4" cy="327.39" r="2.8" fill="#8a1c3e" stroke="#111" stroke-width="1.1"/>
<circle cx="423.08" cy="321.28" r="2.8" fill="#8a1c3e" stroke="#111" stroke-width="1.1"/>
<circle cx="451.76" cy="305.78" r="2.8" fill="#8a1c3e" stroke="#111" stroke-width="1.1"/>
<circle cx="480.44" cy="287.91" r="2.8" fill="#8a1c3e" stroke="#111" stroke-width="1.1"/>
<circle cx="499.56" cy="280.81" r="2.8" fill="#8a1c3e" stroke="#111" stroke-width="1.1"/>
<circle cx="394.4" cy="327.39" r="2.8" fill="#8a1c3e" stroke="#111" stroke-width="1.1"/>
<path d="M506.2,298.7L506.2,300.3M506.2,298.7L504.81,299.5M506.2,298.7L504.81,297.9M506.2,298.7L506.2,297.1M506.2,298.7L507.59,297.9M506.2,298.7L507.59,299.5" stroke="#222" stroke-width="0.9" fill="none" stroke-linecap="round"/>
<circle cx="506.2" cy="298.7" r="0.88" fill="#222"/>
<path d="M506.2,308L506.2,309.6M506.2,308L504.81,308.8M506.2,308L504.81,307.2M506.2,308L506.2,306.4M506.2,308L507.59,307.2M506.2,308L507.59,308.8" stroke="#222" stroke-width="0.9" fill="none" stroke-linecap="round"/>
<circle cx="506.2" cy="308" r="0.88" fill="#222"/>
<line x1="398.8" y1="225.1" x2="408.8" y2="225.1" stroke="#e5a23f" stroke-width="1.5"/>
<circle cx="403.8" cy="225.1" r="2.55" fill="#e6a13c" stroke="#111" stroke-width="1.2"/>
<text x="412.7" y="227.71" font-size="7.6" fill="#1e1e1e" stroke="#1e1e1e" stroke-width="0.22" textLength="23.8" lengthAdjust="spacingAndGlyphs">Vehicle</text>
<line x1="398.8" y1="233" x2="408.8" y2="233" stroke="#8cb556" stroke-width="1.5"/>
<polygon points="403.8,236.66 400.44,230.56 407.16,230.56" fill="#8db565" stroke="#111" stroke-width="1.2"/>
<text x="412.7" y="235.61" font-size="7.6" fill="#1e1e1e" stroke="#1e1e1e" stroke-width="0.22" textLength="65.8" lengthAdjust="spacingAndGlyphs">FF-10101 10 mg/kg</text>
<line x1="398.8" y1="240.4" x2="408.8" y2="240.4" stroke="#35517f" stroke-width="1.5"/>
<polygon points="403.8,244.06 400.44,237.96 407.16,237.96" fill="#2c4670" stroke="#111" stroke-width="1.2"/>
<text x="412.7" y="243.01" font-size="7.6" fill="#1e1e1e" stroke="#1e1e1e" stroke-width="0.22" textLength="65.8" lengthAdjust="spacingAndGlyphs">FF-10101 20 mg/kg</text>
<line x1="398.8" y1="249" x2="408.8" y2="249" stroke="#a11d43" stroke-width="1.5"/>
<circle cx="403.8" cy="249" r="2.55" fill="#8a1c3e" stroke="#111" stroke-width="1.2"/>
<text x="412.7" y="251.61" font-size="7.6" fill="#1e1e1e" stroke="#1e1e1e" stroke-width="0.22" textLength="70.6" lengthAdjust="spacingAndGlyphs">Quizartinib 10 mg/kg</text>
<line x1="398.8" y1="256.4" x2="408.8" y2="256.4" stroke="#4e3b2a" stroke-width="1.5"/>
<circle cx="403.8" cy="256.4" r="2.55" fill="#4d3a29" stroke="#111" stroke-width="1.2"/>
<text x="412.7" y="259.01" font-size="7.6" fill="#1e1e1e" stroke="#1e1e1e" stroke-width="0.22" textLength="70.6" lengthAdjust="spacingAndGlyphs">Quizartinib 20 mg/kg</text>
<rect x="0" y="0" width="520" height="1" fill="#000"/>
<rect x="0" y="0" width="1" height="367" fill="#000"/>
<rect x="518" y="0" width="1" height="367" fill="#3a3a3a"/>
<rect x="519" y="0" width="1" height="367" fill="#000"/>
<rect x="0" y="365" width="520" height="1" fill="#2a2a2a"/>
<rect x="0" y="366" width="520" height="1" fill="#000"/>
<rect x="1" y="1" width="517" height="1" fill="#ddd"/>
<rect x="1" y="1" width="1" height="364" fill="#ddd"/>
</svg>
</body></html>
